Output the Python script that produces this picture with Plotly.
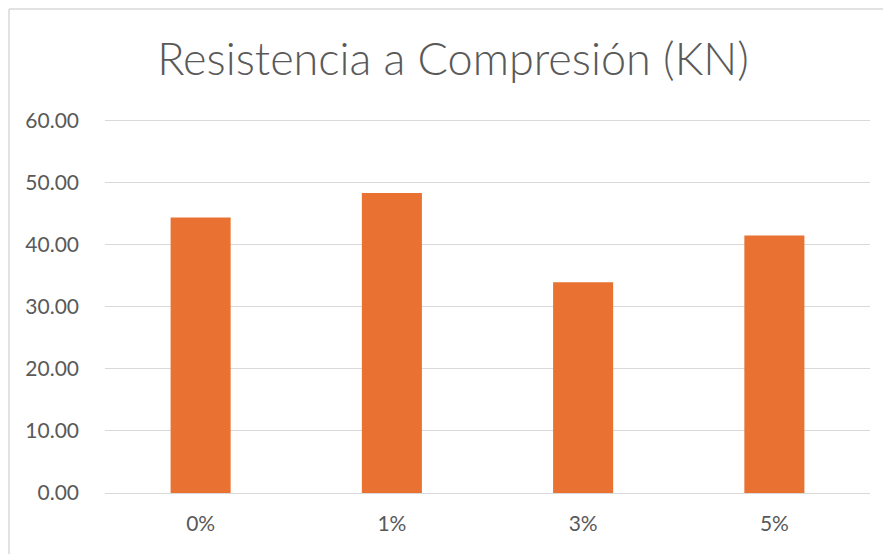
import plotly.graph_objects as go

# Compressive strength per fibre dosage
dosages = ["0%", "1%", "3%", "5%"]
resistencia_kn = [44.43, 48.38, 33.97, 41.53]
y_ticks = [0, 10, 20, 30, 40, 50, 60]
y_tick_text = [f"{v:.2f}" for v in y_ticks]
y_max = 60.3  # small headroom so the 60.00 gridline is kept

W, H = 883, 554
PX_PER_UNIT = 373 / 60
ML, MR, MB = 105, 13, 60.5
MT = 120.5 - (y_max - 60) * PX_PER_UNIT
PW, PH = W - ML - MR, H - MT - MB


def px_x(x):
    return (x - ML) / PW


def px_y(y):
    return (H - MB - y) / PH


grid = "#d9d9d9"
text_col = "#595959"
font = "Lato"

fig = go.Figure(
    go.Bar(
        x=dosages,
        y=resistencia_kn,
        marker=dict(color="#E97132", line=dict(width=0)),
        hoverinfo="x+y",
    )
)

fig.update_layout(
    width=W,
    height=H,
    margin=dict(l=ML, r=MR, t=MT, b=MB, autoexpand=False),
    paper_bgcolor="white",
    plot_bgcolor="white",
    bargap=0.686,
    showlegend=False,
    title=dict(
        text="Resistencia a Compresión (KN)",
        font=dict(family=font, size=45, color=text_col, weight=300),
        x=px_x(453),
        xref="paper",
        xanchor="center",
        y=1 - 75 / H,
        yref="container",
        yanchor="bottom",
        pad=dict(t=0, b=0),
    ),
    xaxis=dict(
        showgrid=False,
        showline=True,
        linecolor=grid,
        linewidth=1,
        ticks="",
        tickfont=dict(family=font, size=21, color=text_col),
        ticklabelstandoff=12,
        fixedrange=True,
    ),
    yaxis=dict(
        range=[0, y_max],
        tickvals=y_ticks,
        ticktext=y_tick_text,
        showgrid=True,
        gridcolor=grid,
        gridwidth=1,
        zeroline=False,
        showline=False,
        ticks="",
        tickfont=dict(family=font, size=21, color=text_col),
        ticklabelstandoff=25,
        fixedrange=True,
    ),
    shapes=[
        # chart-area border (top and left edges)
        dict(type="line", xref="paper", yref="paper",
             x0=px_x(9), x1=px_x(W + 5), y0=px_y(8.5), y1=px_y(8.5),
             line=dict(color=grid, width=1.5)),
        dict(type="line", xref="paper", yref="paper",
             x0=px_x(9), x1=px_x(9), y0=px_y(8.5), y1=px_y(H + 5),
             line=dict(color=grid, width=1.5)),
    ],
)

fig.write_html("out.html")
